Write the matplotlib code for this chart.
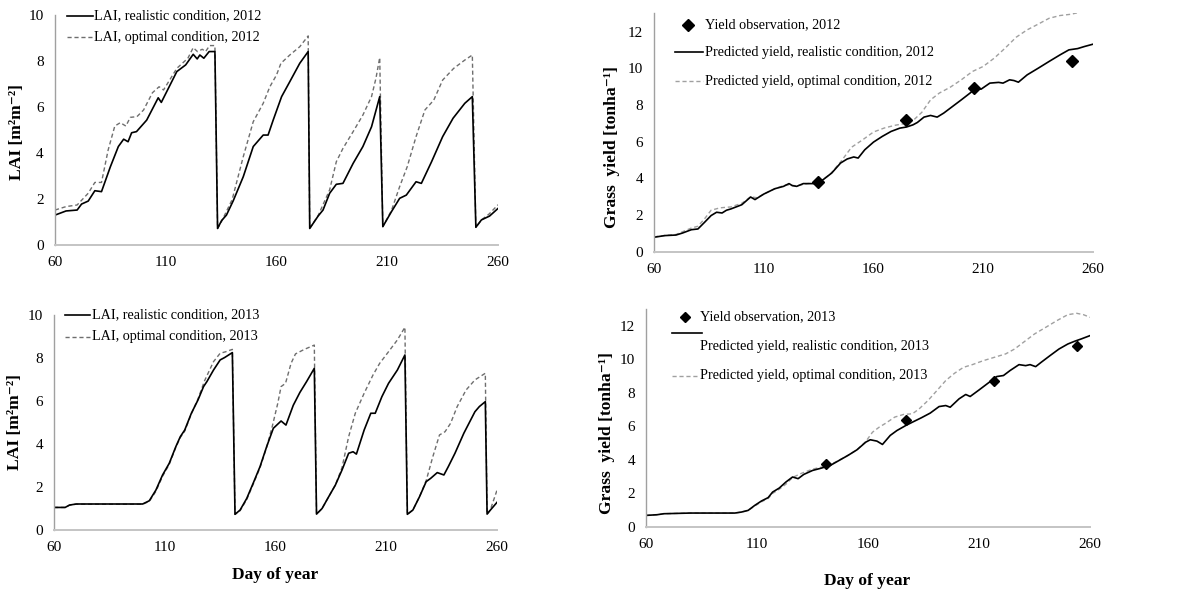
import matplotlib
matplotlib.use("Agg")
import matplotlib.pyplot as plt
from matplotlib.lines import Line2D

plt.rcParams['font.family'] = ['Liberation Serif', 'DejaVu Serif']

# ---- LAI 2012 ----
lai12_real_day = [60, 65, 70, 72, 75, 78, 81, 85, 88.6, 91, 93, 94.6, 96.8, 101.4, 106.6, 108, 115, 119, 122.4, 124.2,
                  125.4, 127.2, 129.6, 132.2, 133.4, 135.2, 137.4, 140.5, 145, 149.5, 154, 156.2, 158.5, 162.3, 166,
                  170.5, 174.3, 175, 178.8, 181, 184, 187, 190, 194.6, 199, 202.9, 206.6, 208, 211.9, 215.6, 218.6,
                  223, 225.4, 230, 235, 239.7, 245, 248.4, 250, 252.5, 256.2, 260]
lai12_real = [1.30, 1.48, 1.52, 1.78, 1.91, 2.36, 2.32, 3.4, 4.28, 4.6, 4.49, 4.88, 4.93, 5.43, 6.40, 6.20, 7.54, 7.83,
              8.29, 8.09, 8.26, 8.12, 8.41, 8.41, 0.72, 1.06, 1.30, 1.93, 2.97, 4.28, 4.78, 4.78, 5.43, 6.45, 7.10,
              7.90, 8.41, 0.72, 1.26, 1.52, 2.25, 2.64, 2.68, 3.55, 4.28, 5.14, 6.45, 0.80, 1.45, 2.03, 2.17, 2.75,
              2.68, 3.62, 4.71, 5.51, 6.16, 6.45, 0.77, 1.09, 1.26, 1.59]
lai12_opt_day = [60, 65, 70, 75, 78, 81, 84, 87, 89.5, 92, 94, 97, 100, 104, 107, 109, 115, 120, 122.4, 124.3,
                 126.5, 128, 129.8, 132.2, 133.4, 135.2, 140, 145, 149.5, 154, 157, 160, 162, 166, 170.5, 174.3, 175,
                 178.8, 184, 187, 190, 194.6, 199, 202.9, 204.9, 206.6, 208, 211.9, 215.6, 219, 223, 227, 231, 235,
                 240, 245, 248.4, 250, 252.5, 256, 260]
lai12_opt = [1.52, 1.67, 1.74, 2.25, 2.72, 2.72, 4.13, 5.17, 5.32, 5.17, 5.55, 5.58, 5.87, 6.62, 6.88, 6.74, 7.68,
             8.12, 8.58, 8.41, 8.51, 8.41, 8.67, 8.67, 0.72, 1.02, 1.98, 3.84, 5.36, 6.16, 6.88, 7.39, 7.9, 8.26,
             8.62, 9.09, 0.72, 1.28, 2.4, 3.62, 4.2, 4.93, 5.65, 6.45, 7.25, 8.15, 0.80, 1.5, 2.54, 3.4, 4.71, 5.87,
             6.30, 7.17, 7.68, 8.04, 8.26, 0.77, 1.09, 1.35, 1.75]

# ---- LAI 2013 ----
lai13_real_day = [60, 65, 67, 70, 100, 103, 106, 109, 112, 115, 117, 119, 122, 125, 127.5, 129, 132, 135, 137, 140.5,
                  141.7, 144, 147, 150, 153, 156, 159, 162.5, 164.7, 168, 171, 174, 177.5, 178.5, 181, 184, 187, 190,
                  193, 195, 196.5, 200, 203, 205, 208, 211, 215, 218.4, 219.5, 222, 225, 228, 230, 233, 236, 238,
                  241, 245, 250, 252, 254.7, 255.5, 257, 260]
lai13_real = [1.05, 1.05, 1.16, 1.21, 1.21, 1.36, 1.86, 2.56, 3.10, 3.88, 4.34, 4.65, 5.43, 6.05, 6.67, 6.90, 7.44,
              7.91, 8.02, 8.25, 0.73, 0.93, 1.47, 2.2, 2.95, 3.88, 4.73, 5.07, 4.88, 5.8, 6.4, 6.9, 7.52, 0.74, 1.0,
              1.55, 2.09, 2.79, 3.57, 3.64, 3.53, 4.65, 5.43, 5.43, 6.2, 6.82, 7.44, 8.14, 0.73, 0.93, 1.55, 2.25,
              2.40, 2.67, 2.56, 2.95, 3.57, 4.50, 5.50, 5.74, 5.97, 0.74, 0.93, 1.29]
lai13_opt_day = [60, 65, 67, 70, 100, 103, 106, 109, 112, 115, 117, 119, 122, 125, 128, 132, 135, 137.5, 140.5,
                 141.7, 144, 147, 150, 153, 156, 158.5, 161, 162.5, 164.5, 167, 169, 173, 177.5, 178.5, 181, 184,
                 187, 190, 193, 196, 200, 204, 207, 211, 215, 218.4, 219.5, 222, 225, 228, 231, 234, 236.5, 239,
                 242, 246, 250, 254.7, 255.5, 257, 260]
lai13_opt = [1.05, 1.05, 1.16, 1.2, 1.2, 1.33, 1.8, 2.5, 3.05, 3.85, 4.3, 4.6, 5.4, 6.1, 6.95, 7.83, 8.22, 8.29,
             8.40, 0.73, 0.9, 1.42, 2.15, 2.9, 3.85, 4.81, 5.89, 6.67, 6.82, 7.75, 8.19, 8.40, 8.60, 0.74, 1.0, 1.55,
             2.09, 2.9, 4.34, 5.43, 6.36, 7.21, 7.75, 8.29, 8.84, 9.43, 0.73, 0.93, 1.55, 2.3, 3.41, 4.42, 4.57,
             4.96, 5.74, 6.51, 6.98, 7.29, 0.74, 0.95, 1.86]

# ---- Yield 2012 ----
yld12_real_day = [60, 65, 70, 73, 77, 80, 83, 86, 88.5, 91, 93, 95, 100, 104, 106, 110, 115, 119, 121.5, 123, 125,
                  128, 133, 137, 141, 145, 148, 151, 153, 156, 160, 164, 168, 172, 175, 178, 180, 183, 186, 189, 192,
                  196, 200, 204, 206.6, 209, 213, 217, 219, 222, 224, 226, 230, 235, 240, 245, 249, 253, 256, 260]
yld12_real = [0.80, 0.89, 0.92, 1.03, 1.21, 1.25, 1.61, 1.98, 2.16, 2.12, 2.27, 2.34, 2.57, 2.99, 2.85, 3.15, 3.44,
              3.57, 3.72, 3.61, 3.57, 3.72, 3.72, 3.93, 4.30, 4.84, 5.06, 5.17, 5.11, 5.56, 5.98, 6.29, 6.56, 6.74,
              6.80, 6.92, 7.05, 7.34, 7.43, 7.34, 7.56, 7.92, 8.28, 8.65, 8.92, 8.86, 9.19, 9.23, 9.19, 9.37, 9.33,
              9.24, 9.64, 10.0, 10.37, 10.73, 11.0, 11.07, 11.18, 11.31]
yld12_opt_day = [60, 65, 70, 73, 77, 80, 83, 86, 90, 95, 100, 104, 107, 110, 115, 120, 125, 130, 135, 140, 145, 150,
                 155, 160, 165, 170, 175, 178, 182, 186, 190, 195, 200, 205, 210, 215, 220, 225, 230, 235, 240, 245,
                 250, 254]
yld12_opt = [0.82, 0.9, 0.95, 1.1, 1.3, 1.4, 1.8, 2.27, 2.4, 2.45, 2.65, 3.0, 2.95, 3.15, 3.44, 3.65, 3.6, 3.72, 3.78,
             4.2, 4.9, 5.7, 6.1, 6.53, 6.75, 6.9, 7.0, 7.15, 7.6, 8.28, 8.65, 8.97, 9.37, 9.82, 10.1, 10.55, 11.1,
             11.69, 12.09, 12.4, 12.72, 12.87, 12.94, 13.05]
obs12_day = [134.9, 175, 205.8, 250.6]
obs12 = [3.79, 7.19, 8.91, 10.4]

# ---- Yield 2013 ----
yld13_real_day = [60, 65, 68, 80, 100, 103, 106, 109, 112, 115, 117, 120, 123, 126, 128.5, 131, 135, 139, 143, 147,
                  151, 155, 159, 161, 164, 166.5, 170, 173, 177, 180, 184, 188, 192, 195, 197, 201, 204, 206, 210,
                  214, 218, 221, 224, 228, 231, 233, 235.5, 238, 242, 246, 250, 253, 256, 260]
yld13_real = [0.69, 0.73, 0.79, 0.83, 0.83, 0.89, 0.99, 1.29, 1.55, 1.75, 2.08, 2.32, 2.68, 2.98, 2.88, 3.13, 3.37,
              3.51, 3.67, 3.97, 4.27, 4.60, 5.06, 5.20, 5.12, 4.92, 5.46, 5.75, 6.05, 6.25, 6.51, 6.79, 7.18, 7.24,
              7.14, 7.64, 7.90, 7.78, 8.17, 8.57, 8.97, 9.03, 9.33, 9.68, 9.62, 9.68, 9.56, 9.82, 10.22, 10.61,
              10.91, 11.07, 11.21, 11.41]
yld13_opt_day = [60, 65, 68, 80, 100, 103, 106, 109, 112, 115, 117, 120, 123, 126, 130, 135, 140, 145, 150, 155, 159,
                 162, 165, 168, 172, 176, 180, 183, 187, 191, 195, 199, 203, 207, 212, 217, 222, 226, 230, 235, 240,
                 245, 250, 254, 257, 260]
yld13_opt = [0.69, 0.73, 0.79, 0.83, 0.83, 0.89, 0.99, 1.25, 1.5, 1.7, 2.0, 2.25, 2.55, 2.95, 3.2, 3.45, 3.6, 3.85,
             4.2, 4.6, 5.1, 5.65, 5.95, 6.19, 6.55, 6.71, 6.75, 7.04, 7.54, 8.13, 8.73, 9.17, 9.52, 9.68, 9.92,
             10.12, 10.32, 10.61, 11.01, 11.51, 11.90, 12.3, 12.66, 12.74, 12.66, 12.5]
obs13_day = [141.1, 177.1, 216.8, 254]
obs13 = [3.77, 6.35, 8.69, 10.81]

FS = 11
KFS = 10.2
LFS = 12.6
DASH = (0, (3, 2))


def style(ax, ymax, ystep):
    ax.set_xlim(60, 260)
    ax.set_ylim(0, ymax)
    ax.set_xticks(range(60, 261, 50))
    ax.set_yticks(range(0, int(ymax) + 1, ystep))
    ax.tick_params(length=0, labelsize=FS, pad=8)
    for s in ['top', 'right']:
        ax.spines[s].set_visible(False)
    ax.spines['bottom'].set_color('#c4c4c4')
    ax.spines['bottom'].set_linewidth(1.4)
    ax.spines['left'].set_color('#a0a0a0')
    ax.spines['left'].set_linewidth(1.0)


def key_line(ax, x0, x1, y, **kw):
    ax.add_line(Line2D([x0, x1], [y, y], transform=ax.transAxes, clip_on=False, **kw))


def key_text(ax, x, y, s):
    ax.text(x, y, s, transform=ax.transAxes, fontsize=KFS, va='center', ha='left')


fig = plt.figure(figsize=(11.9, 5.97), dpi=100)

# top left: LAI 2012
ax1 = fig.add_axes([0.0462, 0.5896, 0.3723, 0.3853])
ax1.plot(lai12_opt_day, lai12_opt, color='#6e6e6e', lw=1.0, linestyle=DASH)
ax1.plot(lai12_real_day, lai12_real, color='black', lw=1.2)
style(ax1, 10, 2)
ax1.set_ylabel('LAI [m²m⁻²]', fontsize=LFS, fontweight='bold')
ax1.yaxis.set_label_coords(-0.068, 0.49)
key_line(ax1, 0.027, 0.086, 0.995, color='black', lw=1.2)
key_text(ax1, 0.088, 0.995, 'LAI, realistic condition, 2012')
key_line(ax1, 0.027, 0.086, 0.904, color='#6e6e6e', lw=1.0, linestyle=DASH)
key_text(ax1, 0.088, 0.904, 'LAI, optimal condition, 2012')

# top right: yield 2012
ax2 = fig.add_axes([0.5496, 0.578, 0.3689, 0.4])
ax2.plot(yld12_opt_day, yld12_opt, color='#a0a0a0', lw=1.0, linestyle=DASH)
ax2.plot(yld12_real_day, yld12_real, color='black', lw=1.2)
ax2.plot(obs12_day, obs12, linestyle='none', marker='D', ms=6, color='black')
style(ax2, 13, 2)
ax2.set_ylabel('Grass  yield [tonha⁻¹]', fontsize=LFS, fontweight='bold')
ax2.yaxis.set_label_coords(-0.077, 0.44)
ax2.plot([0.077], [0.95], transform=ax2.transAxes, marker='D', ms=6, color='black', clip_on=False)
key_text(ax2, 0.116, 0.95, 'Yield observation, 2012')
key_line(ax2, 0.048, 0.112, 0.837, color='black', lw=1.2)
key_text(ax2, 0.116, 0.837, 'Predicted yield, realistic condition, 2012')
key_line(ax2, 0.048, 0.112, 0.715, color='#a0a0a0', lw=1.0, linestyle=DASH)
key_text(ax2, 0.116, 0.715, 'Predicted yield, optimal condition, 2012')

# bottom left: LAI 2013
ax3 = fig.add_axes([0.0454, 0.1122, 0.3723, 0.3602])
ax3.plot(lai13_opt_day, lai13_opt, color='#6e6e6e', lw=1.0, linestyle=DASH)
ax3.plot(lai13_real_day, lai13_real, color='black', lw=1.2)
style(ax3, 10, 2)
ax3.set_ylabel('LAI [m²m⁻²]', fontsize=LFS, fontweight='bold')
ax3.yaxis.set_label_coords(-0.07, 0.5)
ax3.text(0.5, -0.21, 'Day of year', transform=ax3.transAxes, ha='center', va='center',
         fontsize=12.5, fontweight='bold')
key_line(ax3, 0.025, 0.082, 1.0, color='black', lw=1.2)
key_text(ax3, 0.086, 1.0, 'LAI, realistic condition, 2013')
key_line(ax3, 0.025, 0.082, 0.898, color='#6e6e6e', lw=1.0, linestyle=DASH)
key_text(ax3, 0.086, 0.898, 'LAI, optimal condition, 2013')

# bottom right: yield 2013
ax4 = fig.add_axes([0.5429, 0.1173, 0.3731, 0.3652])
ax4.plot(yld13_opt_day, yld13_opt, color='#a0a0a0', lw=1.0, linestyle=DASH)
ax4.plot(yld13_real_day, yld13_real, color='black', lw=1.2)
ax4.plot(obs13_day, obs13, linestyle='none', marker='D', ms=5.5, color='black')
style(ax4, 13, 2)
ax4.set_ylabel('Grass  yield [tonha⁻¹]', fontsize=LFS, fontweight='bold')
ax4.yaxis.set_label_coords(-0.07, 0.43)
ax4.text(0.498, -0.25, 'Day of year', transform=ax4.transAxes, ha='center', va='center',
         fontsize=12.5, fontweight='bold')
ax4.plot([0.088], [0.963], transform=ax4.transAxes, marker='D', ms=5.5, color='black', clip_on=False)
key_text(ax4, 0.122, 0.963, 'Yield observation, 2013')
key_line(ax4, 0.059, 0.126, 0.89, color='black', lw=1.2)
key_text(ax4, 0.122, 0.826, 'Predicted yield, realistic condition, 2013')
key_line(ax4, 0.059, 0.115, 0.693, color='#a0a0a0', lw=1.0, linestyle=DASH)
key_text(ax4, 0.122, 0.693, 'Predicted yield, optimal condition, 2013')

fig.savefig('out.png', dpi=100)
